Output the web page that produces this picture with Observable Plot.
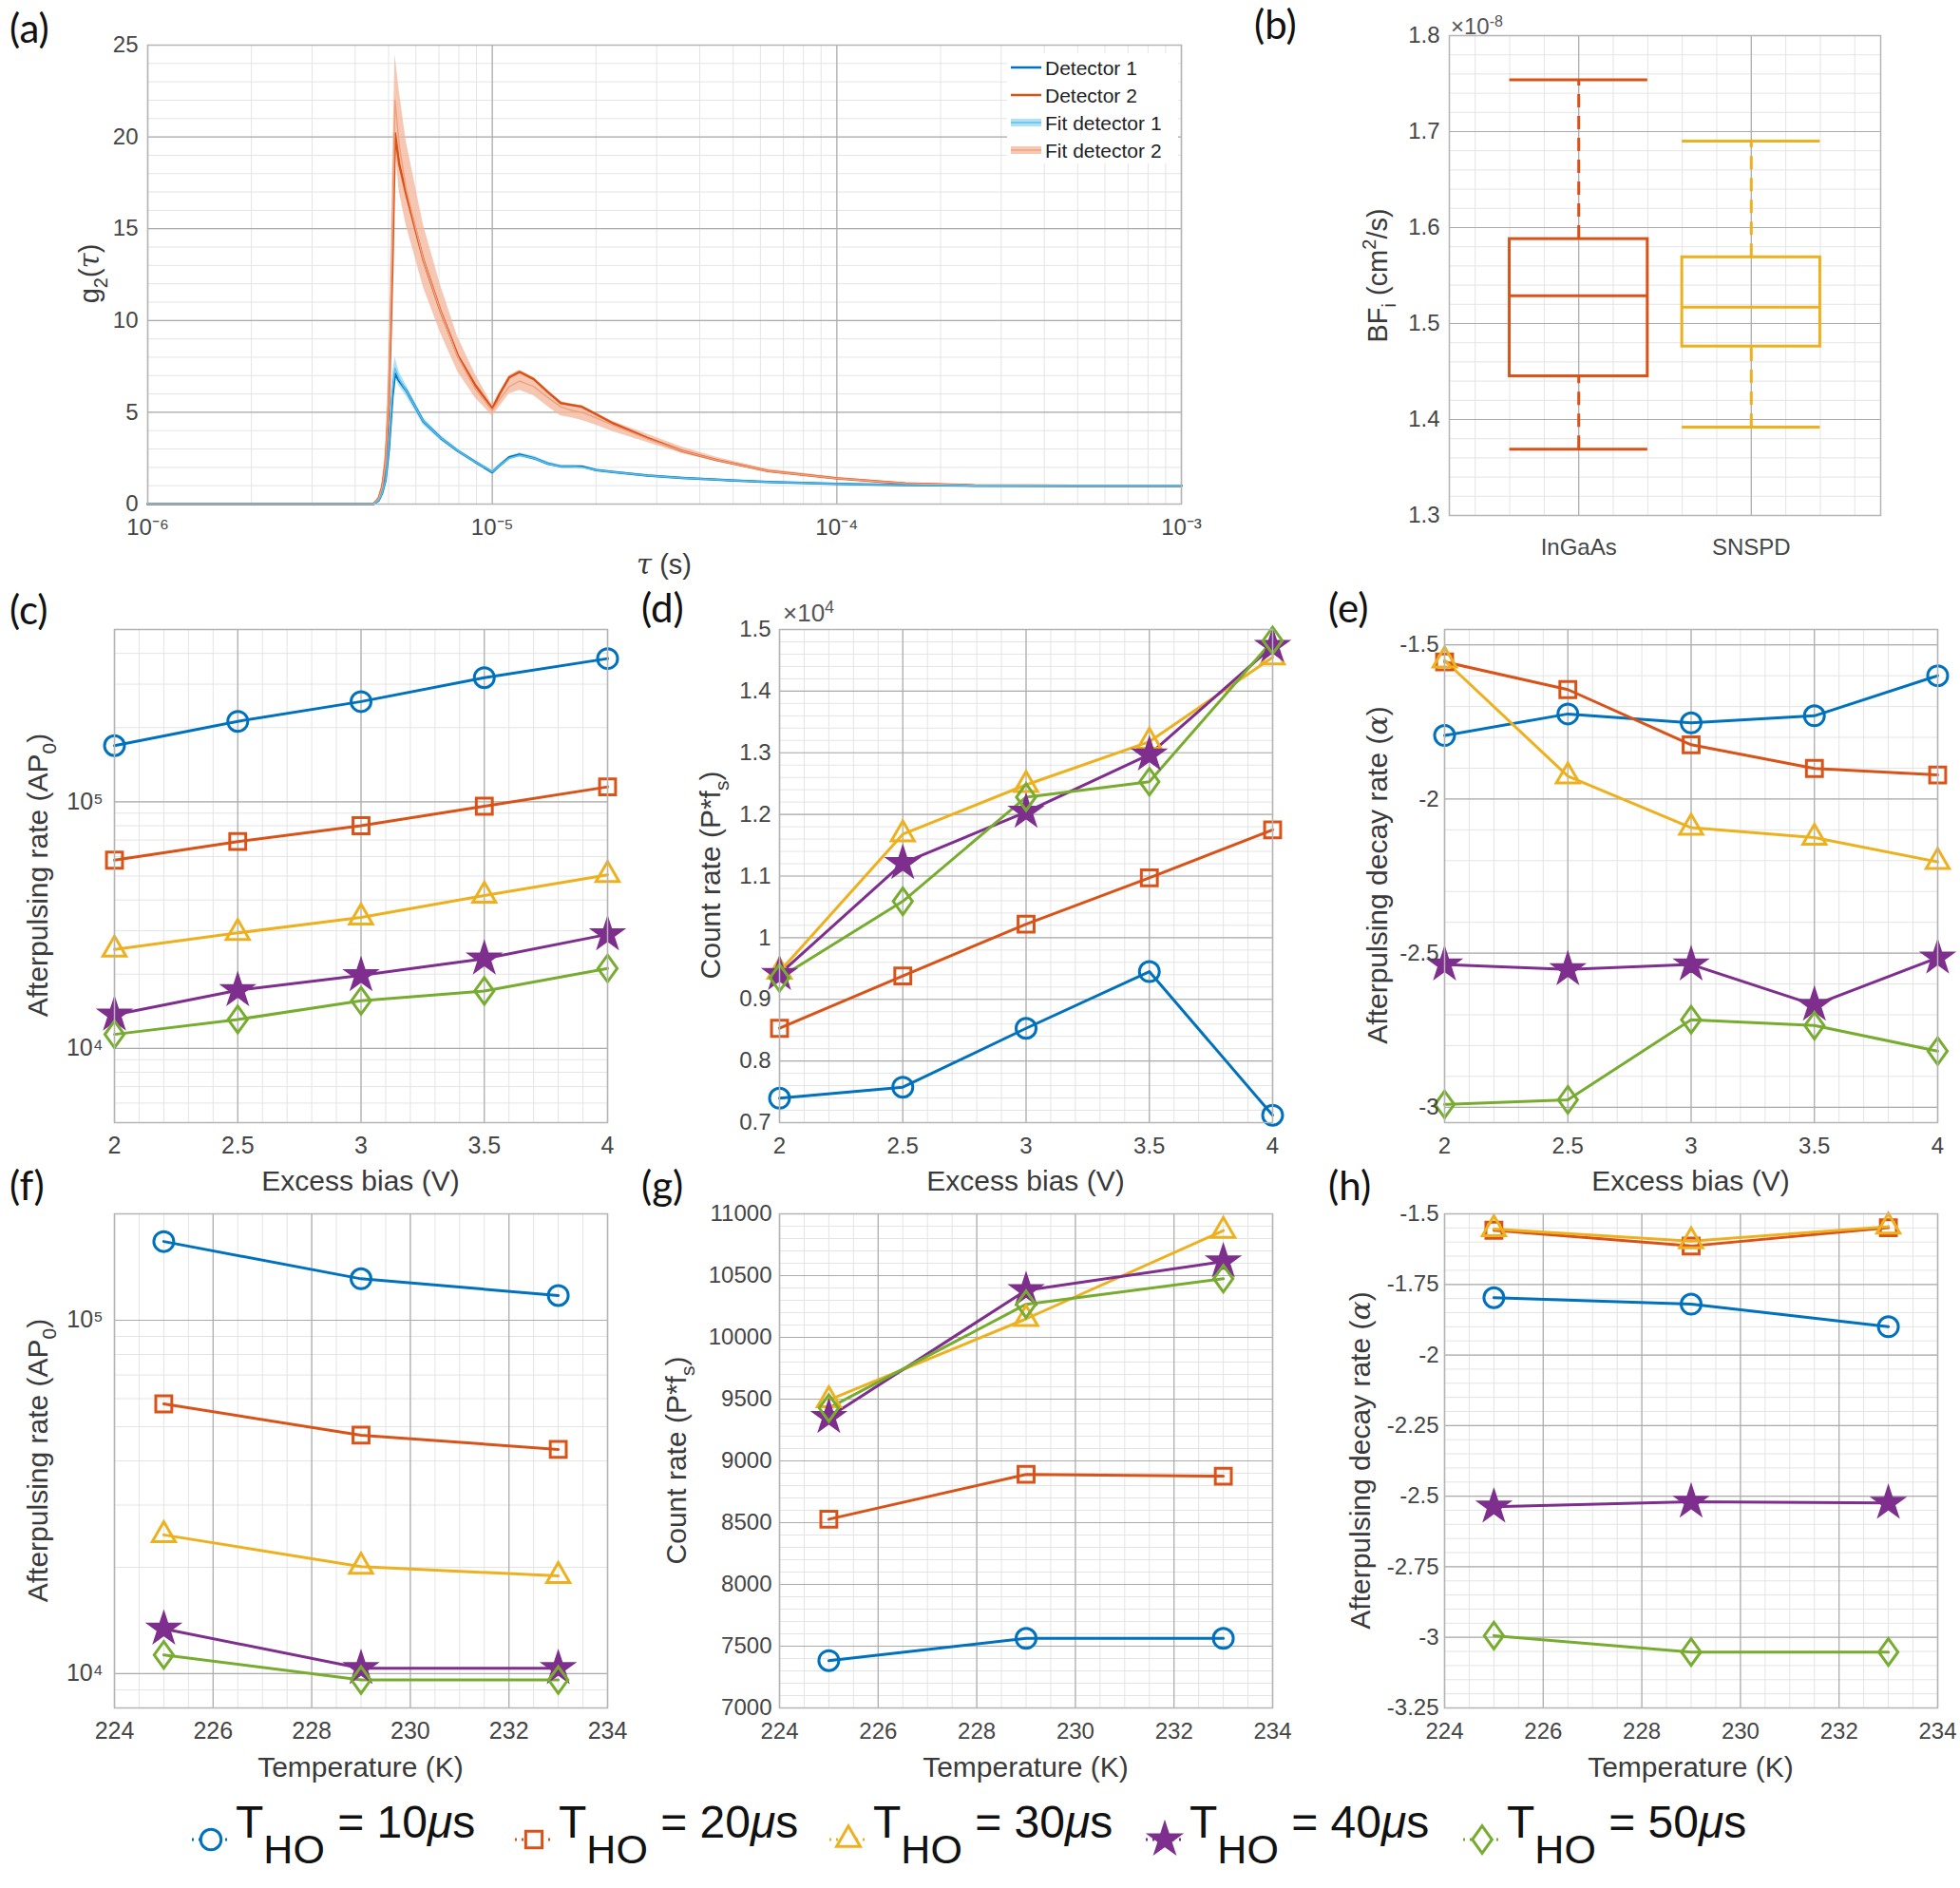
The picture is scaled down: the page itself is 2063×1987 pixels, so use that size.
<!DOCTYPE html>
<html>
<head>
<meta charset="utf-8">
<script src="https://cdn.jsdelivr.net/npm/d3@7"></script>
<script src="https://cdn.jsdelivr.net/npm/@observablehq/plot@0.6"></script>
<style>
  html, body { margin: 0; padding: 0; background: #fff; }
  #fig { position: relative; width: 2063px; height: 1987px; overflow: hidden; background: #fff;
         font-family: "Liberation Sans", Arial, Helvetica, sans-serif; color: #333; }
  .t { position: absolute; white-space: nowrap; line-height: 1; }
  .c { transform: translate(-50%, -50%); }
  .r { transform: translate(-50%, -50%) rotate(-90deg); }
  .pl { font-family: Lato, "Open Sans", sans-serif; font-size: 42px; color: #111; }
  .ax { font-size: 30px; color: #3a3a3a; }
  .lo { vertical-align: baseline; position: relative; font-size: 21px; top: 9px; line-height: 0; }
  .hi { vertical-align: baseline; position: relative; font-size: 20px; top: -12px; line-height: 0; }
</style>
</head>
<body>
<div id="fig"></div>
<script>
// ---------------- DATA ----------------
// (a) second-order correlation g2(tau)
const tau      = [1e-6, 4.52e-6, 4.68e-6, 4.79e-6, 4.90e-6, 5.01e-6, 5.13e-6, 5.22e-6, 5.37e-6, 5.62e-6,
                  6.31e-6, 7.08e-6, 7.94e-6, 8.91e-6, 1.0e-5, 1.05e-5, 1.12e-5, 1.20e-5, 1.32e-5, 1.45e-5,
                  1.58e-5, 1.70e-5, 1.82e-5, 2.0e-5, 2.24e-5, 2.82e-5, 3.55e-5, 4.47e-5, 6.31e-5, 1.0e-4,
                  1.58e-4, 2.51e-4, 5.0e-4, 1.0e-3];
const g2Det1   = [0, 0, 0.2, 0.6, 1.3, 3.0, 5.8, 7.1, 6.7, 6.2,
                  4.5, 3.6, 2.9, 2.3, 1.73, 2.1, 2.55, 2.7, 2.5, 2.2,
                  2.05, 2.05, 2.05, 1.85, 1.75, 1.55, 1.42, 1.33, 1.2, 1.1,
                  1.03, 1.0, 1.0, 1.0];
const g2Det2   = [0, 0, 0.3, 0.9, 2.2, 5.5, 13, 20.2, 18.5, 16.9,
                  13.3, 10.5, 8.1, 6.5, 5.2, 6.0, 6.9, 7.2, 6.8, 6.1,
                  5.5, 5.4, 5.3, 4.9, 4.4, 3.6, 2.9, 2.4, 1.8, 1.4,
                  1.12, 1.02, 1.0, 1.0];
const g2Fit1   = [0, 0, 0.2, 0.6, 1.3, 3.2, 6.2, 7.4, 6.8, 6.2,
                  4.5, 3.6, 2.9, 2.3, 1.75, 2.1, 2.5, 2.65, 2.5, 2.2,
                  2.05, 2.05, 2.0, 1.85, 1.75, 1.55, 1.42, 1.33, 1.2, 1.1,
                  1.03, 1.0, 1.0, 1.0];
const g2Fit1Lo = [0, 0, 0.1, 0.45, 1.1, 2.8, 5.7, 6.9, 6.4, 5.9,
                  4.3, 3.45, 2.8, 2.2, 1.65, 2.0, 2.4, 2.55, 2.4, 2.12,
                  1.98, 1.98, 1.95, 1.8, 1.7, 1.51, 1.39, 1.3, 1.18, 1.08,
                  1.02, 1.0, 1.0, 1.0];
const g2Fit1Hi = [0, 0, 0.3, 0.8, 1.6, 3.8, 7.0, 8.0, 7.2, 6.5,
                  4.7, 3.75, 3.0, 2.4, 1.85, 2.2, 2.6, 2.8, 2.62, 2.3,
                  2.12, 2.12, 2.08, 1.92, 1.8, 1.6, 1.46, 1.36, 1.23, 1.12,
                  1.04, 1.0, 1.0, 1.0];
const g2Fit2   = [0, 0, 0.3, 0.9, 2.2, 6.0, 15, 22, 19.5, 17.2,
                  13.3, 10.5, 8.0, 6.3, 5.1, 5.7, 6.4, 6.7, 6.4, 5.8,
                  5.3, 5.1, 5.0, 4.7, 4.3, 3.55, 2.9, 2.4, 1.8, 1.4,
                  1.12, 1.02, 1.0, 1.0];
const g2Fit2Lo = [0, 0, 0.1, 0.5, 1.4, 4.0, 12, 19.5, 17.0, 15.2,
                  11.8, 9.3, 7.2, 5.8, 4.8, 5.3, 6.0, 6.2, 5.9, 5.3,
                  4.8, 4.7, 4.55, 4.3, 3.95, 3.35, 2.75, 2.3, 1.75, 1.38,
                  1.11, 1.01, 1.0, 1.0];
const g2Fit2Hi = [0, 0, 0.4, 1.2, 3.0, 8.0, 18, 24.5, 22.5, 19.8,
                  15.2, 11.9, 9.1, 7.1, 5.4, 6.1, 7.0, 7.3, 6.9, 6.2,
                  5.6, 5.45, 5.35, 4.95, 4.5, 3.8, 3.1, 2.55, 1.9, 1.46,
                  1.15, 1.03, 1.0, 1.0];
const tauTicks = [1e-6, 1e-5, 1e-4, 1e-3];
const g2Ticks  = [0, 5, 10, 15, 20, 25];
const g2Legend = ["Detector 1", "Detector 2", "Fit detector 1", "Fit detector 2"];

// (b) box plot of BF_i (cm^2/s)
const boxCategories  = ["InGaAs", "SNSPD"];
const boxWhiskerLow  = [1.369e-8, 1.392e-8];
const boxQ1          = [1.445e-8, 1.476e-8];
const boxMedian      = [1.529e-8, 1.517e-8];
const boxQ3          = [1.588e-8, 1.569e-8];
const boxWhiskerHigh = [1.754e-8, 1.690e-8];
const bfTicks        = [1.3e-8, 1.4e-8, 1.5e-8, 1.6e-8, 1.7e-8, 1.8e-8];

// series (hold-off times, µs)
const holdOffs = ["10", "20", "30", "40", "50"];

// (c)-(e) versus excess bias
const excessBias = [2, 2.5, 3, 3.5, 4];
const apRateVsBias = [
  [1.69e5, 2.12e5, 2.55e5, 3.19e5, 3.81e5],
  [5.8e4, 6.9e4, 8.0e4, 9.6e4, 1.15e5],
  [2.52e4, 2.94e4, 3.40e4, 4.17e4, 5.06e4],
  [1.37e4, 1.72e4, 1.98e4, 2.31e4, 2.90e4],
  [1.14e4, 1.31e4, 1.56e4, 1.71e4, 2.11e4]
];
const countRateVsBias = [
  [7396, 7575, 8530, 9450, 7120],
  [8530, 9380, 10220, 10970, 11750],
  [9450, 11680, 12480, 13180, 14550],
  [9410, 11210, 12040, 12970, 14730],
  [9350, 10590, 12280, 12530, 14820]
];
const decayVsBias = [
  [-1.794, -1.724, -1.753, -1.730, -1.600],
  [-1.555, -1.645, -1.824, -1.901, -1.922],
  [-1.550, -1.926, -2.093, -2.125, -2.204],
  [-2.537, -2.553, -2.537, -2.668, -2.515],
  [-2.991, -2.976, -2.716, -2.735, -2.818]
];

// (f)-(h) versus temperature
const temperature = [225, 229, 233];
const apRateVsTemp = [
  [1.67e5, 1.31e5, 1.175e5],
  [5.8e4, 4.73e4, 4.31e4],
  [2.47e4, 2.01e4, 1.89e4],
  [1.34e4, 1.036e4, 1.036e4],
  [1.13e4, 9.6e3, 9.6e3]
];
const countRateVsTemp = [
  [7383, 7563, 7563],
  [8528, 8891, 8876],
  [9493, 10150, 10864],
  [9354, 10381, 10614],
  [9428, 10268, 10475]
];
const decayVsTemp = [
  [-1.797, -1.820, -1.900],
  [-1.558, -1.614, -1.549],
  [-1.554, -1.597, -1.545],
  [-2.537, -2.520, -2.524],
  [-2.994, -3.052, -3.052]
];

// tick labels
const biasTicks      = [2, 2.5, 3, 3.5, 4];
const tempTicks      = [224, 226, 228, 230, 232, 234];
const apTicks        = [1e4, 1e5];
const countBiasTicks = [7000, 8000, 9000, 10000, 11000, 12000, 13000, 14000, 15000];
const countTempTicks = [7000, 7500, 8000, 8500, 9000, 9500, 10000, 10500, 11000];
const decayBiasTicks = [-3, -2.5, -2, -1.5];
const decayTempTicks = [-3.25, -3, -2.75, -2.5, -2.25, -2, -1.75, -1.5];

// ---------------- STYLE ----------------
const FONT = "'Liberation Sans', Arial, Helvetica, sans-serif";
const MAJOR = "#ababab", MINOR = "#e4e4e4", FRAME = "#b5b5b5";
const seriesColors = ["#0072BD", "#D95319", "#EDB120", "#7E2F8E", "#77AC30"];
const tallDiamond = {
  draw(ctx, size) {
    const h = Math.sqrt(size) * 0.72, w = h * 0.72;
    ctx.moveTo(0, -h); ctx.lineTo(w, 0); ctx.lineTo(0, h); ctx.lineTo(-w, 0); ctx.closePath();
  }
};
const seriesSymbols = ["circle", "square", "triangle", "star", tallDiamond];
const seriesFill = ["none", "none", "none", "#7E2F8E", "none"];
const seriesR = [10.5, 9.5, 9, 9.5, 11];

const fig = document.getElementById("fig");
const SUP = {"-": "\u207B", "0": "\u2070", "1": "\u00B9", "2": "\u00B2", "3": "\u00B3", "4": "\u2074",
             "5": "\u2075", "6": "\u2076", "7": "\u2077", "8": "\u2078", "9": "\u2079"};
const pow10 = d => "10" + String(Math.round(Math.log10(d))).split("").map(c => SUP[c]).join("");

function linTicks(a, b, step) {
  const n = Math.round((b - a) / step);
  return d3.range(n + 1).map(i => +(a + i * step).toFixed(6));
}
function logTicks(lo, hi) {
  const out = [];
  for (let e = Math.floor(Math.log10(lo)); e <= Math.ceil(Math.log10(hi)); e++)
    for (let k = 1; k <= 9; k++) { const v = k * Math.pow(10, e); if (v >= lo * 0.9999 && v <= hi * 1.0001) out.push(v); }
  return out;
}
function grid(minX, majX, minY, majY) {
  return [
    Plot.ruleX(minX, {stroke: MINOR, strokeWidth: 1}),
    Plot.ruleY(minY, {stroke: MINOR, strokeWidth: 1}),
    Plot.ruleX(majX, {stroke: MAJOR, strokeWidth: 1.2}),
    Plot.ruleY(majY, {stroke: MAJOR, strokeWidth: 1.2})
  ];
}
function axes(xt, xf, yt, yf, fs = 24, ypad = 9, xpad = 15) {
  return [
    Plot.axisX({ticks: xt, tickFormat: xf, tickSize: 0, tickPadding: xpad, label: null, fontSize: fs}),
    Plot.axisY({ticks: yt, tickFormat: yf, tickSize: 0, tickPadding: ypad, label: null, fontSize: fs})
  ];
}
function seriesMarks(xs, table) {
  const marks = [];
  table.forEach((vals, i) => {
    const rows = xs.map((x, j) => ({x, y: vals[j]}));
    marks.push(Plot.line(rows, {x: "x", y: "y", stroke: seriesColors[i], strokeWidth: 3}));
  });
  table.forEach((vals, i) => {
    const rows = xs.map((x, j) => ({x, y: vals[j]}));
    marks.push(Plot.dot(rows, {x: "x", y: "y", symbol: seriesSymbols[i], r: seriesR[i],
      stroke: seriesColors[i], strokeWidth: 3, fill: seriesFill[i]}));
  });
  return marks;
}
function panel(frame, opts, marks) {
  const [l, t, r, b] = frame;
  const pad = {l: 150, r: 30, t: 20, b: 60};
  const svg = Plot.plot({
    width: r - l + pad.l + pad.r, height: b - t + pad.t + pad.b,
    marginLeft: pad.l, marginRight: pad.r, marginTop: pad.t, marginBottom: pad.b,
    style: {fontFamily: FONT, fontSize: "24px", color: "#454545", background: "transparent",
            overflow: "visible", maxWidth: "none"},
    ...opts,
    marks: [...marks, Plot.frame({stroke: FRAME, strokeWidth: 1.5})]
  });
  Object.assign(svg.style, {position: "absolute", left: (l - pad.l) + "px", top: (t - pad.t) + "px"});
  fig.appendChild(svg);
}
function text(html, x, y, cls, extra = "") {
  const d = document.createElement("div");
  d.className = "t " + cls;
  d.style.cssText = `left:${x}px;top:${y}px;${extra}`;
  d.innerHTML = html;
  fig.appendChild(d);
  return d;
}
const tauI = `<i style="font-family:'DejaVu Serif',serif">τ</i>`;
const alphaI = `<i style="font-family:'DejaVu Serif',serif">α</i>`;

// ---------------- PANEL (a) ----------------
const aFrame = [155, 47, 1243, 530];
panel(aFrame, {
  x: {type: "log", domain: [1e-6, 1e-3]},
  y: {domain: [0, 25]}
}, [
  ...grid(logTicks(1e-6, 1e-3), tauTicks, linTicks(0, 25, 1), g2Ticks),
  Plot.areaY(tau, {x: tau, y1: g2Fit2Lo, y2: g2Fit2Hi, fill: "#F3B49A", fillOpacity: 0.75}),
  Plot.areaY(tau, {x: tau, y1: g2Fit1Lo, y2: g2Fit1Hi, fill: "#8FD3F2", fillOpacity: 0.7}),
  Plot.line(tau, {x: tau, y: g2Det2, stroke: "#D95319", strokeWidth: 2.5}),
  Plot.line(tau, {x: tau, y: g2Det1, stroke: "#0072BD", strokeWidth: 2.5}),
  Plot.line(tau, {x: tau, y: g2Fit2, stroke: "#F0A27F", strokeWidth: 1.5}),
  Plot.line(tau, {x: tau, y: g2Fit1, stroke: "#5BC0EB", strokeWidth: 1.5}),
  ...axes(tauTicks, pow10, g2Ticks, d => String(d), 24, 10)
]);
// legend (a)
{
  const box = document.createElement("div");
  box.style.cssText = "position:absolute;left:1060px;top:56px;width:180px;height:116px;background:#fff;";
  fig.appendChild(box);
  const sw = [
    `<svg width="36" height="14"><line x1="2" y1="7" x2="34" y2="7" stroke="#0072BD" stroke-width="2.5"/></svg>`,
    `<svg width="36" height="14"><line x1="2" y1="7" x2="34" y2="7" stroke="#D95319" stroke-width="2.5"/></svg>`,
    `<svg width="36" height="14"><rect x="2" y="3" width="32" height="8" fill="#8FD3F2" opacity="0.7"/><line x1="2" y1="7" x2="34" y2="7" stroke="#5BC0EB" stroke-width="1.5"/></svg>`,
    `<svg width="36" height="14"><rect x="2" y="3" width="32" height="8" fill="#F3B49A" opacity="0.75"/><line x1="2" y1="7" x2="34" y2="7" stroke="#F0A27F" stroke-width="1.5"/></svg>`
  ];
  g2Legend.forEach((name, i) => {
    const y = 71 + i * 29;
    text(sw[i], 1062, y - 7, "", "");
    text(name, 1100, y, "", "transform:translateY(-50%);font-size:21px;color:#222;");
  });
}
text(`g<span class="lo" style="font-size:20px">2</span>(${tauI})`, 94, 288, "r ax", "font-size:29px;");
text(`${tauI} (s)`, 699, 594, "c ax", "font-size:29px;");
text("(a)", 10, 8, "pl");

// ---------------- PANEL (b) ----------------
const bFrame = [1525, 37, 1979, 542];
const boxColors = ["#D95319", "#EDB120"];
const boxMarks = [];
boxCategories.forEach((cat, i) => {
  const row = [{pos: i + 1, lo: boxWhiskerLow[i], q1: boxQ1[i], med: boxMedian[i], q3: boxQ3[i], hi: boxWhiskerHigh[i]}];
  const c = boxColors[i];
  boxMarks.push(
    Plot.ruleX(row, {x: "pos", y1: "q3", y2: "hi", stroke: c, strokeWidth: 3, strokeDasharray: "14,9"}),
    Plot.ruleX(row, {x: "pos", y1: "lo", y2: "q1", stroke: c, strokeWidth: 3, strokeDasharray: "14,9"}),
    Plot.rect(row, {x1: d => d.pos - 0.4, x2: d => d.pos + 0.4, y1: "q1", y2: "q3", stroke: c, strokeWidth: 3, fill: "none"}),
    Plot.ruleY(row, {y: "med", x1: d => d.pos - 0.4, x2: d => d.pos + 0.4, stroke: c, strokeWidth: 3}),
    Plot.ruleY(row, {y: "hi", x1: d => d.pos - 0.4, x2: d => d.pos + 0.4, stroke: c, strokeWidth: 3}),
    Plot.ruleY(row, {y: "lo", x1: d => d.pos - 0.4, x2: d => d.pos + 0.4, stroke: c, strokeWidth: 3})
  );
});
panel(bFrame, {
  x: {domain: [0.25, 2.75]},
  y: {domain: [1.3e-8, 1.8e-8]}
}, [
  ...grid(linTicks(0.4, 2.6, 0.2), [1, 2], linTicks(1.3, 1.8, 0.02).map(v => v * 1e-8), bfTicks),
  ...boxMarks,
  ...axes([1, 2], d => boxCategories[d - 1], bfTicks, d => (d * 1e8).toFixed(1), 24, 10, 24)
]);
text(`BF<span class="lo" style="font-size:20px">i</span> (cm<span class="hi">2</span>/s)`, 1450, 290, "r ax", "font-size:29px;");
text(`×10<span class="hi" style="font-size:16px;top:-8px">-8</span>`, 1527, 16, "", "font-size:24px;color:#555;");
text("(b)", 1320, 4, "pl");

// ---------------- PANELS (c)-(h) ----------------
const rowTop = [662, 1181], rowBot = [1277, 1797];
const cols = [[120, 639], [820, 1339], [1520, 2039]];

// (c)
panel([cols[0][0], rowTop[0], cols[0][1], rowTop[1]], {
  x: {domain: [2, 4]}, y: {type: "log", domain: [5000, 5e5]}
}, [
  ...grid(linTicks(2, 4, 0.1), biasTicks, logTicks(5000, 5e5), apTicks),
  ...seriesMarks(excessBias, apRateVsBias),
  ...axes(biasTicks, d => String(d), apTicks, pow10, 25, 12)
]);
// (d)
panel([cols[1][0], rowTop[0], cols[1][1], rowTop[1]], {
  x: {domain: [2, 4]}, y: {domain: [7000, 15000]}
}, [
  ...grid(linTicks(2, 4, 0.1), biasTicks, linTicks(7000, 15000, 200), countBiasTicks),
  ...seriesMarks(excessBias, countRateVsBias),
  ...axes(biasTicks, d => String(d), countBiasTicks, d => String(+(d / 1e4).toFixed(1)), 24, 9)
]);
text(`×10<span class="hi" style="font-size:18px;top:-9px">4</span>`, 824, 632, "", "font-size:26px;color:#555;");
// (e)
panel([cols[2][0], rowTop[0], cols[2][1], rowTop[1]], {
  x: {domain: [2, 4]}, y: {domain: [-3.05, -1.45]}
}, [
  ...grid(linTicks(2, 4, 0.1), biasTicks, linTicks(-3.0, -1.5, 0.1), decayBiasTicks),
  ...seriesMarks(excessBias, decayVsBias),
  ...axes(biasTicks, d => String(d), decayBiasTicks, d => String(d), 24, 6)
]);
// (f)
panel([cols[0][0], rowBot[0], cols[0][1], rowBot[1]], {
  x: {domain: [224, 234]}, y: {type: "log", domain: [8000, 2e5]}
}, [
  ...grid(linTicks(224, 234, 0.5), tempTicks, logTicks(8000, 2e5), apTicks),
  ...seriesMarks(temperature, apRateVsTemp),
  ...axes(tempTicks, d => String(d), apTicks, pow10, 25, 12)
]);
// (g)
panel([cols[1][0], rowBot[0], cols[1][1], rowBot[1]], {
  x: {domain: [224, 234]}, y: {domain: [7000, 11000]}
}, [
  ...grid(linTicks(224, 234, 0.5), tempTicks, linTicks(7000, 11000, 100), countTempTicks),
  ...seriesMarks(temperature, countRateVsTemp),
  ...axes(tempTicks, d => String(d), countTempTicks, d => String(d), 24, 8)
]);
// (h)
panel([cols[2][0], rowBot[0], cols[2][1], rowBot[1]], {
  x: {domain: [224, 234]}, y: {domain: [-3.25, -1.5]}
}, [
  ...grid(linTicks(224, 234, 0.5), tempTicks, linTicks(-3.25, -1.5, 0.05), decayTempTicks),
  ...seriesMarks(temperature, decayVsTemp),
  ...axes(tempTicks, d => String(d), decayTempTicks, d => String(d), 24, 6)
]);

// axis titles (c)-(h)
text(`Afterpulsing rate (AP<span class="lo">0</span>)`, 40, 921, "r ax");
text(`Count rate (P*f<span class="lo">s</span>)`, 748, 921, "r ax");
text(`Afterpulsing decay rate (${alphaI})`, 1450, 921, "r ax");
text(`Afterpulsing rate (AP<span class="lo">0</span>)`, 40, 1537, "r ax");
text(`Count rate (P*f<span class="lo">s</span>)`, 712, 1537, "r ax");
text(`Afterpulsing decay rate (${alphaI})`, 1432, 1537, "r ax");
["Excess bias (V)", "Excess bias (V)", "Excess bias (V)"].forEach((s, i) =>
  text(s, (cols[i][0] + cols[i][1]) / 2, 1243, "c ax"));
["Temperature (K)", "Temperature (K)", "Temperature (K)"].forEach((s, i) =>
  text(s, (cols[i][0] + cols[i][1]) / 2, 1860, "c ax"));

// panel letters
text("(c)", 10, 620, "pl");
text("(d)", 675, 618, "pl");
text("(e)", 1398, 618, "pl");
text("(f)", 10, 1226, "pl");
text("(g)", 675, 1226, "pl");
text("(h)", 1398, 1226, "pl");

// ---------------- bottom legend ----------------
const legendX = [222, 562, 893, 1226, 1560];
holdOffs.forEach((h, i) => {
  const x = legendX[i], y = 1936;
  const sym = typeof seriesSymbols[i] === "string"
    ? {circle: d3.symbolCircle, square: d3.symbolSquare, triangle: d3.symbolTriangle, star: d3.symbolStar}[seriesSymbols[i]]
    : seriesSymbols[i];
  const path = d3.symbol(sym, Math.PI * seriesR[i] * seriesR[i] * 1.05)();
  const svg = `<svg width="60" height="44" style="overflow:visible">
    <line x1="10" y1="22" x2="50" y2="22" stroke="${seriesColors[i]}" stroke-width="3" stroke-dasharray="2,5"/>
    <path d="${path}" transform="translate(30,22)" stroke="${seriesColors[i]}" stroke-width="3" fill="${seriesFill[i] === "none" ? "#fff" : seriesFill[i]}"/></svg>`;
  text(svg, x - 30, y - 22, "");
  text(`T<span style="position:relative;top:27px;font-size:43px">HO</span> = ${h}<i>μ</i>s`, x + 26, y - 18, "",
       "font-family:'Liberation Sans',Arial,sans-serif;font-size:48px;color:#111;transform:translateY(-50%);");
});
</script>
</body>
</html>
